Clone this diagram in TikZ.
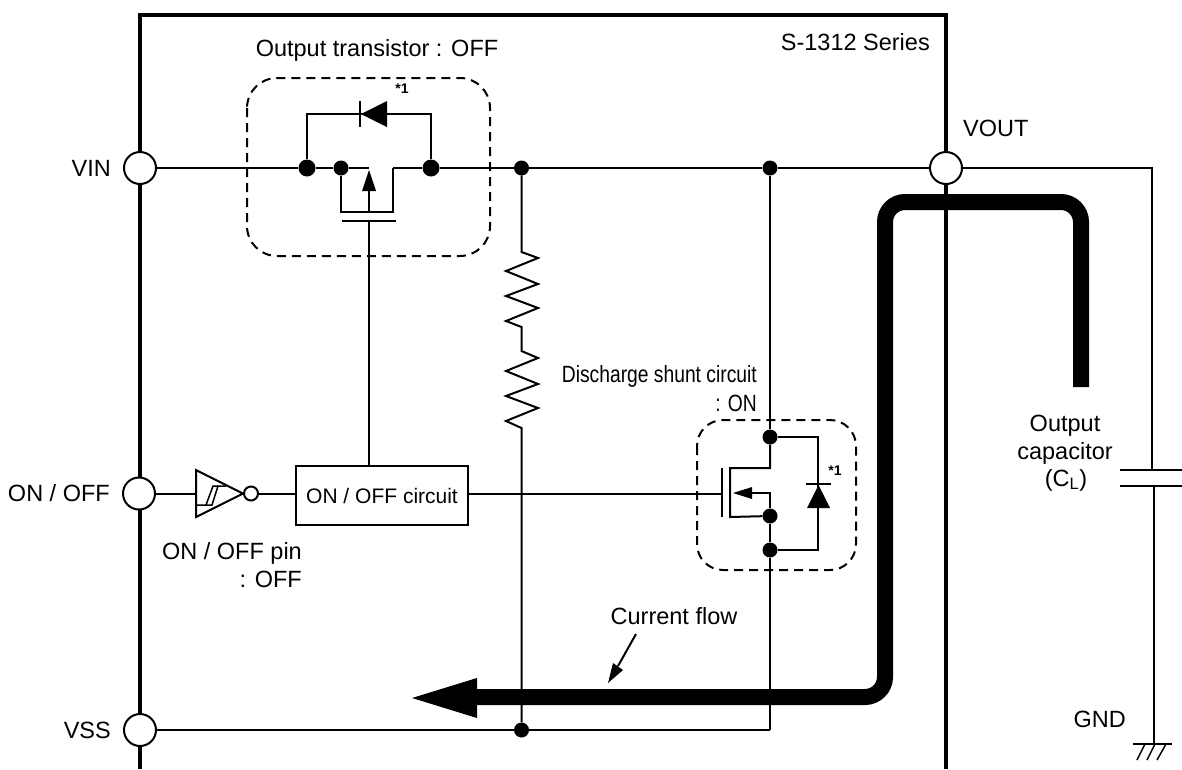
\documentclass[tikz,border=0pt]{standalone}
\usepackage{fontspec}
\setmainfont{Liberation Sans}
\usepackage{tikz}
\usetikzlibrary{positioning}
\tikzset{
  wire/.style={line width=2pt},
  rail/.style={line width=4pt},
  flow/.style={line width=16pt, rounded corners=20pt},
  pin/.style={draw, line width=2pt, fill=white, circle, minimum size=32pt, inner sep=0pt},
  dot/.style={fill=black, circle, minimum size=15pt, inner sep=0pt},
  bigdot/.style={fill=black, circle, minimum size=17pt, inner sep=0pt},
  zone/.style={draw, line width=2pt, dash pattern=on 9pt off 6pt, rounded corners=30pt},
  lbl/.style={inner sep=0pt, font=\fontsize{23.5}{27}\selectfont},
  note/.style={inner sep=0pt, font=\bfseries\fontsize{14}{16}\selectfont},
}
\begin{document}
\begin{tikzpicture}[x=1pt,y=-1pt]
  \useasboundingbox (0,0) rectangle (1182,769);

  % package outline
  \draw [rail] (140,769) -- (140,15) -- (945.5,15) -- (945.5,769);

  \draw [zone] (247,78) rectangle (490,256);
  \draw [zone, rounded corners=26pt] (697,420) rectangle (856,570);

  % pins
  \node [pin] (vin) at (140,168) {};
  \node [pin] (onoff) at (139,493.5) {};
  \node [pin] (vss) at (140,730) {};
  \node [pin] (vout) at (946,168) {};

  \node [lbl, anchor=east] at (111,168) {VIN};
  \node [lbl, anchor=east] at (110,493.5) {ON / OFF};
  \node [lbl, anchor=east] at (111,730) {VSS};
  \node [lbl, anchor=west] at (963,128) {VOUT};
  \node [lbl, anchor=east] at (930,42) {S-1312 Series};
  \node [lbl] at (377,50) {Output transistor : OFF};

  % output transistor
  \node [bigdot] (d1) at (307,168) {};
  \node [dot] (d2) at (341,168) {};
  \node [bigdot] (d3) at (431,168) {};
  \node [dot] (d4) at (521.5,168) {};
  \node [dot] (d5) at (770,168) {};
  \coordinate (srcend) at (369,168);
  \coordinate (drnend) at (393,168);
  \coordinate (gatetop) at (369,221);

  \draw [wire] (vin) -- (d1) -- (d2) -- (srcend);
  \draw [wire] (drnend) -- (d3) -- (d4) -- (d5) -- (vout);
  \draw [wire] (d2) |- (393,212) -- (drnend);
  \draw [wire] (d1) |- (431,114) -- (d3);
  \draw [wire] (369,212) -- (369,190);
  \fill (369,170) -- (376,191) -- (362,191) -- cycle;
  \draw [wire] (342,221) -- (396,221);
  \draw [wire] (360,101) -- (360,127);
  \fill (361,114) -- (387,101) -- (387,127) -- cycle;
  \node [note] at (402,89) {*1};

  % ON / OFF logic
  \node [draw, wire, lbl, font=\fontsize{21}{24}\selectfont, minimum width=172pt, minimum height=59pt] (ctrl) at (382,495.5) {ON / OFF circuit};
  \draw [wire] (gatetop) -- (369,466);
  \draw [wire] (196,470) -- (196,517) -- (243,493.5) -- cycle;
  \draw [line width=1.5pt] (197,505) -- (212,505) -- (218,486) -- (226,486);
  \draw [line width=1.5pt] (206,505) -- (213,486) -- (218,486);
  \node [draw, wire, circle, minimum size=14pt, inner sep=0pt] (bubble) at (251,493.5) {};
  \draw [wire] (onoff) -- (196,493.5);
  \draw [wire] (bubble) -- (bubble -| ctrl.west);
  \node [lbl, anchor=east] at (302,553) {ON / OFF pin};
  \node [lbl, anchor=east] at (302,579) {: OFF};

  % divider
  \node [dot] (d6) at (521.5,730) {};
  \draw [wire] (d4) -- (521.5,252) -- (538,258) -- (506,271) -- (538,284) -- (506,296) -- (538,308) -- (506,321) -- (521.5,327) -- (521.5,351)
    -- (538,358) -- (506,371) -- (538,384) -- (506,396) -- (538,408) -- (506,421) -- (521.5,428) -- (d6);

  % discharge shunt
  \node [dot] (s1) at (770,437) {};
  \node [dot] (s2) at (770,516) {};
  \node [dot] (s3) at (770,550) {};
  \coordinate (sfoot) at (770,730);
  \coordinate (gate) at (722,494);
  \draw [wire] (d5) -- (s1);
  \draw [wire] (s1) -- (770,468) -- (730,468) -- (730,517) -- (s2);
  \draw [wire] (s2) -- (s3) -- (sfoot);
  \draw [wire] (s2) -- (770,493) -- (750,493);
  \fill (733,493) -- (752,487) -- (752,499) -- cycle;
  \draw [wire] (722,468) -- (722,517);
  \draw [wire] (gate -| ctrl.east) -- (gate);
  \draw [wire] (s1) -- (818,437) -- (818,550) -- (s3);
  \draw [wire] (806,484) -- (831,484);
  \fill (818.5,485) -- (830,508) -- (807,508) -- cycle;
  \node [note] at (835,471) {*1};
  \node [lbl, anchor=east] at (757,376) {\scalebox{0.82}[1]{Discharge shunt circuit}};
  \node [lbl, anchor=east] at (757,403) {\scalebox{0.82}[1]{: ON}};

  \draw [wire] (vss) -- (d6) -- (sfoot);

  % current path
  \draw [flow] (470,697) -- (885,697) -- (885,202) -- (1081,202) -- (1081,387);
  \fill (412,698) -- (477,678) -- (477,718) -- cycle;
  \coordinate (flowtip) at (608,683);
  \coordinate (flowtail) at (636,634);
  \draw [wire] (flowtail) -- (618,666);
  \fill (flowtip) -- (613,663) -- (623,670) -- cycle;
  \node [lbl] at (674,616) {Current flow};

  % load
  \coordinate (captop) at (1152,470);
  \coordinate (capbot) at (1154,486);
  \coordinate (gnd) at (1154,744);
  \draw [wire] (vout) -- (1152,168) -- (captop);
  \draw [wire] (1120,470) -- (1182,470);
  \draw [wire] (1120,486) -- (1182,486);
  \draw [wire] (capbot) -- (gnd);
  \draw [wire] (1133,744) -- (1172,744);
  \draw [line width=1.5pt] (1145,744) -- (1137,760);
  \draw [line width=1.5pt] (1155,744) -- (1147,760);
  \draw [line width=1.5pt] (1166,744) -- (1157,760);
  \node [lbl] at (1065,426) {Output};
  \node [lbl] at (1065,453) {capacitor};
  \node [lbl] at (1066,480) {(C\textsubscript{L})};
  \node [lbl, anchor=east] at (1126,719) {GND};
\end{tikzpicture}
\end{document}
